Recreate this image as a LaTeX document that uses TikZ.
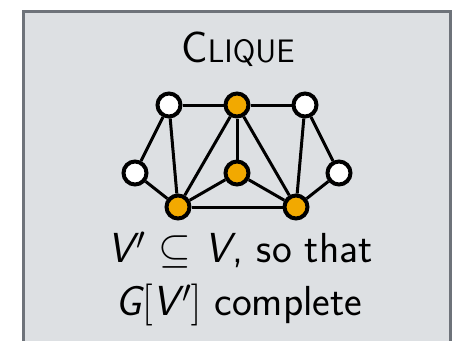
\RequirePackage{fix-cm}
\documentclass[tikz,border=0pt]{standalone}
\definecolor{boxC}{HTML}{DDE0E3}
\definecolor{borderC}{HTML}{6E737A}
\definecolor{orangeC}{HTML}{F2A900}
\newcommand{\sV}{\mbox{\sffamily\slshape V}}
\newcommand{\sG}{\mbox{\sffamily\slshape G}}
\newcommand{\prm}{\kern0.08em\raisebox{0.3em}{\scalebox{0.75}{$\prime$}}}
\begin{document}
\begin{tikzpicture}[x=1pt,y=-1pt,
  vtx/.style={circle, draw=black, line width=4pt, minimum size=23pt, inner sep=0pt},
  wv/.style={vtx, fill=white},
  ov/.style={vtx, fill=orangeC},
  edge/.style={line width=3pt, draw=black},
  lbl/.style={font=\sffamily\fontsize{42}{48}\selectfont, inner sep=0pt, anchor=base}]
\useasboundingbox (0,0) rectangle (455,340);
\fill[white] (0,0) rectangle (455,340);
\begin{scope}
\clip (0,0) rectangle (455,340);
\draw[line width=3pt, draw=borderC, fill=boxC] (23.5,11.3) rectangle (450.8,360);
\end{scope}
\node[wv] (tl) at (169,105) {};
\node[ov] (tm) at (237,105) {};
\node[wv] (tr) at (305,105) {};
\node[wv] (ml) at (135,173) {};
\node[ov] (mc) at (237,173) {};
\node[wv] (mr) at (339,173) {};
\node[ov] (bl) at (178,207) {};
\node[ov] (br) at (296,207) {};
\draw[edge] (tl) -- (tm);
\draw[edge] (tm) -- (tr);
\draw[edge] (tl) -- (ml);
\draw[edge] (tl) -- (bl);
\draw[edge] (tm) -- (bl);
\draw[edge] (tm) -- (mc);
\draw[edge] (tm) -- (br);
\draw[edge] (tr) -- (br);
\draw[edge] (tr) -- (mr);
\draw[edge] (ml) -- (bl);
\draw[edge] (mc) -- (bl);
\draw[edge] (mc) -- (br);
\draw[edge] (bl) -- (br);
\draw[edge] (mr) -- (br);
\node[lbl] (title) at (238,62) {\fontsize{44}{48}\selectfont C\fontsize{32.5}{40}\selectfont LIQUE};
\node[lbl] (l2) at (240,262) {\sV\prm\ $\subseteq$ \sV\kern0.05em, so that};
\node[lbl] (l3) at (239,315) {\sG$[$\sV\prm$]$ complete};
\end{tikzpicture}
\end{document}
